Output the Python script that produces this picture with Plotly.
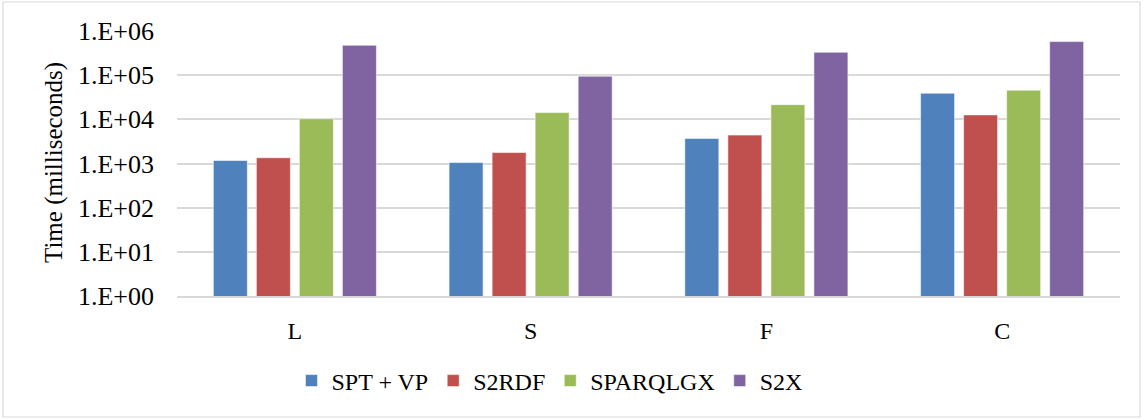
import plotly.graph_objects as go

categories = ["L", "S", "F", "C"]
series_names = ["SPT + VP", "S2RDF", "SPARQLGX", "S2X"]
spt_vp = [1170, 1050, 3700, 39000]
s2rdf = [1350, 1770, 4400, 12600]
sparqlgx = [10300, 14200, 21500, 45700]
s2x = [475000, 95000, 330000, 575000]
tick_vals = [1, 10, 100, 1000, 10000, 100000, 1000000]
tick_text = ["1.E+00", "1.E+01", "1.E+02", "1.E+03", "1.E+04", "1.E+05", "1.E+06"]
colors = ["#4f81bd", "#c0504d", "#9bbb59", "#8064a2"]

FONT = "Liberation Serif, serif"

fig = go.Figure()
for name, vals, col in zip(series_names, [spt_vp, s2rdf, sparqlgx, s2x], colors):
    fig.add_trace(go.Bar(
        x=categories, y=vals, name=name,
        marker=dict(color=col, line=dict(color="rgba(255,255,255,0.55)", width=1)),
    ))

L, R, T, B = 177, 23, 31, 124
W, H = 1143, 420
pw, ph = W - L - R, H - T - B

fig.update_layout(
    width=W, height=H,
    margin=dict(l=L, r=R, t=T, b=B, autoexpand=False),
    paper_bgcolor="white", plot_bgcolor="white",
    barmode="group", bargap=0.27, bargroupgap=0.21,
    font=dict(family=FONT, size=24, color="#000000"),
    showlegend=True,
    legend=dict(orientation="h", x=0.395, xanchor="center",
                yref="container", y=(420 - 381) / 420, yanchor="middle",
                font=dict(family=FONT, size=24, color="#000000"), traceorder="normal"),
    xaxis=dict(showgrid=False, showline=True, linecolor="#d9d9d9", linewidth=1.5,
               ticks="", tickfont=dict(family=FONT, size=24), ticklabelstandoff=12,
               automargin=False),
    yaxis=dict(type="log", range=[0, 6], tickvals=tick_vals, ticktext=tick_text,
               showgrid=True, gridcolor="#d9d9d9", gridwidth=1.5,
               showline=False, ticks="", tickfont=dict(family=FONT, size=26),
               ticklabelstandoff=22, automargin=False),
)

fig.add_annotation(text="Time (milliseconds)", textangle=-90,
                   xref="paper", yref="paper",
                   x=(54 - L) / pw, y=(H - B - 163) / ph,
                   xanchor="center", yanchor="middle", showarrow=False,
                   font=dict(family=FONT, size=25, color="#000000"))

# outer chart border
fig.add_shape(type="rect", xref="paper", yref="paper",
              x0=(3 - L) / pw, x1=(1140 - L) / pw,
              y0=(H - B - 417) / ph, y1=(H - B - 2) / ph,
              line=dict(color="#d9d9d9", width=1.2), fillcolor="rgba(0,0,0,0)", layer="below")

fig.write_html("out.html", config={"displayModeBar": False},
               post_script="document.body.style.margin='0';")
